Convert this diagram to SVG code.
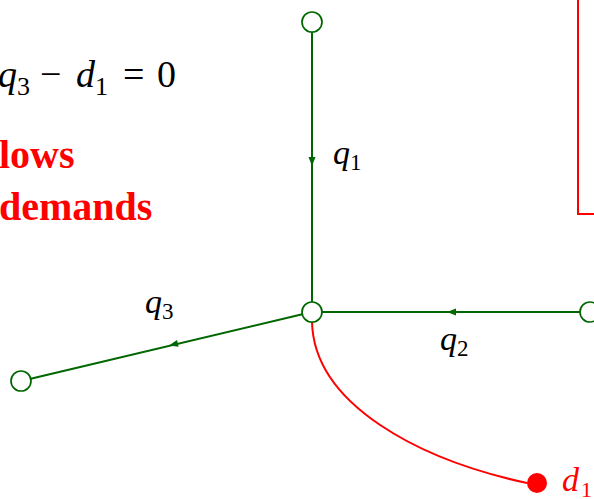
<svg xmlns="http://www.w3.org/2000/svg" width="594" height="499" viewBox="0 0 594 499">
<defs>
<style>
.m{font-family:"Liberation Serif",serif;fill:#000}
.i{font-style:italic}
.node{fill:#fff;stroke:#006600;stroke-width:1.7}
.pipe{stroke:#006600;stroke-width:2;fill:none}
.arr{fill:#006600}
.red{fill:#ff0000}
.b{font-family:"Liberation Serif",serif;font-weight:bold;fill:#ff0000;font-size:40px}
</style>
</defs>
<rect width="594" height="499" fill="#fff"/>
<text class="m" font-size="38"><tspan class="i" x="-2" y="87">q</tspan><tspan x="17" y="95" font-size="26">3</tspan><tspan x="40" y="87">−</tspan><tspan class="i" x="76" y="87">d</tspan><tspan x="95" y="95" font-size="26">1</tspan><tspan x="123" y="87">=</tspan><tspan x="157" y="87">0</tspan></text>
<text class="b" x="-1" y="168">lows</text>
<text class="b" x="-1" y="220">demands</text>
<rect x="578" y="-10" width="40" height="224" fill="none" stroke="#ff0000" stroke-width="2"/>
<g id="connectors">
<line class="pipe" x1="312" y1="32" x2="312" y2="302"/>
<polygon class="arr" points="312,166 308.5,157 315.5,157"/>
<line class="pipe" x1="580" y1="312" x2="322" y2="312"/>
<polygon class="arr" points="447,312 456,308.5 456,315.5"/>
<line class="pipe" x1="302.3" y1="314.3" x2="30.7" y2="378.7"/>
<polygon class="arr" points="169,345.5 177,340 178.6,346.8"/>
<path d="M312,322 C314,405 420,460 527,483" fill="none" stroke="#ff0000" stroke-width="2"/>
</g>
<g id="n_top"><circle class="node" cx="312" cy="22" r="10"/></g>
<g id="n_center"><circle class="node" cx="312" cy="312" r="10"/></g>
<g id="n_right"><circle class="node" cx="590" cy="312" r="10"/></g>
<g id="n_left"><circle class="node" cx="21" cy="381" r="10"/></g>
<g id="n_demand"><circle class="red" cx="537" cy="483" r="10"/></g>
<g id="labels" class="m" font-size="34">
<text class="i" x="333" y="164">q</text><text x="350" y="170" font-size="23">1</text>
<text class="i" x="440" y="350">q</text><text x="457" y="356" font-size="23">2</text>
<text class="i" x="145" y="313">q</text><text x="162" y="319" font-size="23">3</text>
<text class="i" x="562" y="491" fill="#ff0000">d</text><text x="581" y="497" font-size="22" fill="#ff0000">1</text>
</g>
</svg>
